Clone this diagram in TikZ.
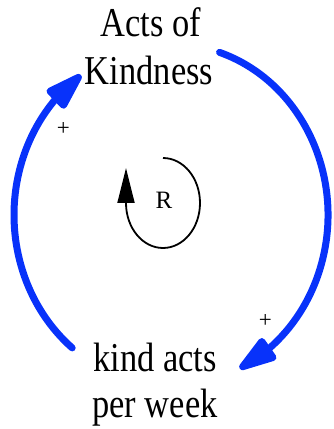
\documentclass[tikz,border=0pt]{standalone}
\usepackage{fontspec}
\setmainfont{Liberation Serif}
\usetikzlibrary{arrows.meta,bending,calc}
\definecolor{linkblue}{RGB}{8,50,250}
\newcommand{\biglabel}[1]{\fontsize{41}{48}\selectfont\scalebox{0.84}[1]{#1}}
\tikzset{
  lbl/.style={inner sep=0pt,anchor=base},
  link/.style={draw=linkblue,line width=7pt,line cap=round,
    -{Triangle[length=46pt,width=27pt,round=false]}},
  sign/.style={inner sep=0pt,font=\fontsize{23}{25}\selectfont},
  loopline/.style={draw=black,line width=1.8pt,
    -{Triangle[length=35pt,width=17pt]}}
}
\begin{document}
\begin{tikzpicture}[x=1pt,y=1pt]
\useasboundingbox (0,0) rectangle (334,429);
% variable labels
\node[lbl] (acts1) at (151,392) {\biglabel{Acts of}};
\node[lbl] (acts2) at (149,344) {\biglabel{Kindness}};
\node[lbl] (kind1) at (155,57) {\biglabel{kind acts}};
\node[lbl] (kind2) at (155,11) {\biglabel{per week}};
% link arcs
\coordinate (lstart) at ($(171,214)+(231:157 and 171)$);
\coordinate (rstart) at ($(171,214)+(72:157 and 171)$);
\draw[link] (lstart)
  arc[start angle=231,end angle=125,x radius=157,y radius=171];
\draw[link] (rstart)
  arc[start angle=72,end angle=-64,x radius=157,y radius=171];
% polarity signs
\node[sign] (pl) at (63.3,300) {+};
\node[sign] (pr) at (265.3,107.7) {+};
% loop marker
\node[inner sep=0pt,font=\fontsize{25}{27}\selectfont] (R) at (164,229) {R};
\coordinate (ltop) at (163,271);
\coordinate (ltip) at (126,261);
\draw[loopline] (ltop) arc[start angle=90,end angle=-180,x radius=37,y radius=45] -- (ltip);
\end{tikzpicture}
\end{document}
